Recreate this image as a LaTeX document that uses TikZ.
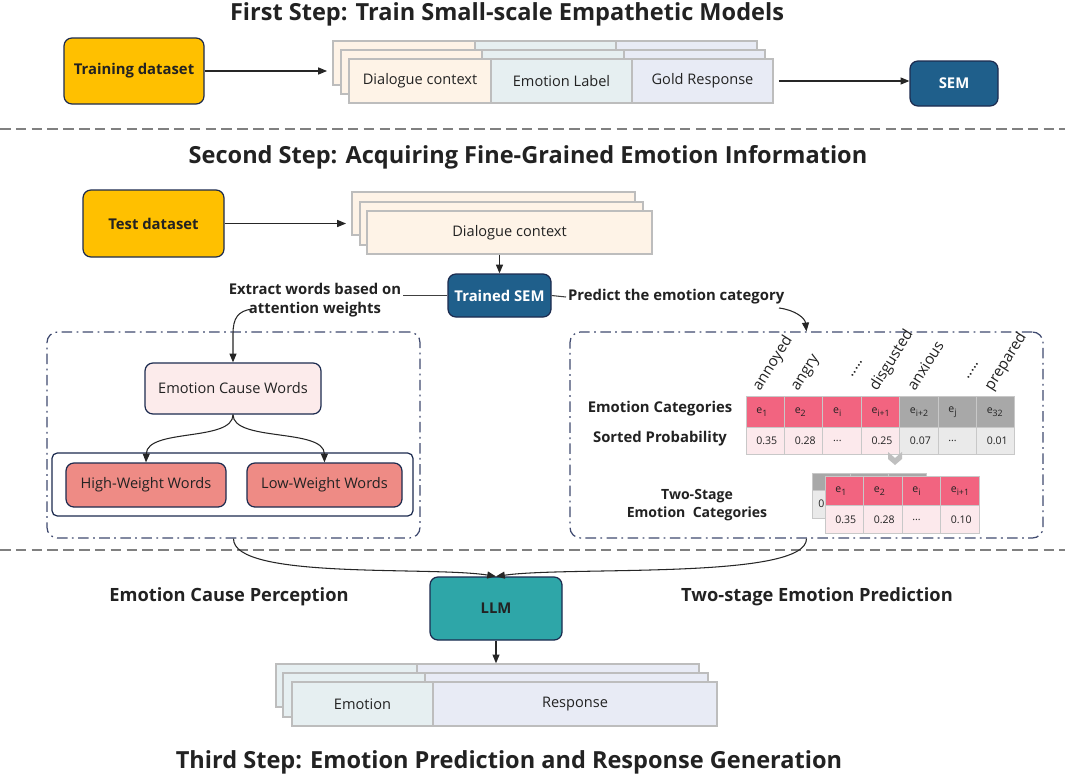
\documentclass[tikz,border=0pt]{standalone}
\usepackage{fontspec}
\setmainfont{Open Sans}
\usetikzlibrary{fit,arrows.meta,calc}
\newcommand{\tdots}{...}
\definecolor{gold}{HTML}{FFC000}
\definecolor{semblue}{HTML}{1F5F8B}
\definecolor{navy}{HTML}{1C2B4F}
\definecolor{txt}{HTML}{222222}
\definecolor{dcfill}{HTML}{FEF3E7}
\definecolor{elfill}{HTML}{E6EFF1}
\definecolor{grfill}{HTML}{E8EBF5}
\definecolor{lyrgray}{HTML}{BDBDBD}
\definecolor{cellline}{HTML}{C8C8C8}
\definecolor{pinkhead}{HTML}{F26480}
\definecolor{pinklight}{HTML}{FCE9EC}
\definecolor{grayhead}{HTML}{A8A8A8}
\definecolor{graylight}{HTML}{EAEAEA}
\definecolor{ecwfill}{HTML}{FCEBEB}
\definecolor{salmon}{HTML}{EE8B85}
\definecolor{tealc}{HTML}{2EA6A8}
\definecolor{dashgray}{HTML}{808080}
\definecolor{framecol}{HTML}{404A70}
\definecolor{chev}{HTML}{BFBFBF}
\begin{document}
\begin{tikzpicture}[x=0.02cm,y=-0.02cm,
  rbox/.style={draw=navy, line width=0.7pt, rounded corners=4.5pt, inner sep=0pt},
  lyr/.style={draw=lyrgray, line width=0.8pt, inner sep=0pt},
  tcell/.style={draw=cellline, line width=0.5pt, inner sep=0pt},
  ctxt/.style={font=\fontsize{6}{7}\selectfont, text=txt, anchor=west, inner sep=0pt},
  lbl/.style={font=\fontsize{8.45}{10.8}\selectfont\bfseries, align=center, text=txt, inner sep=1pt},
  biglbl/.style={font=\fontsize{10.4}{12}\selectfont\bfseries, text=txt, inner sep=1pt},
  reg/.style={font=\fontsize{8.3}{10}\selectfont, text=txt, inner sep=0pt},
  rot/.style={font=\fontsize{8.6}{10}\selectfont, text=txt, rotate=58, anchor=base west, inner sep=0pt},
  arr/.style={-{Triangle[length=5pt,width=4pt]}, line width=0.6pt, draw=black!85},
  plain/.style={line width=0.6pt, draw=black!75},
  sepline/.style={draw=dashgray, line width=0.9pt, dash pattern=on 6pt off 3pt},
  frame/.style={draw=framecol, line width=0.7pt, rounded corners=6pt, dash pattern=on 6pt off 2.5pt on 1pt off 2.5pt, inner sep=0pt},
  ttl/.style={font=\fontsize{13.4}{16}\selectfont\bfseries, text=txt, inner sep=0pt}
]
\useasboundingbox[fill=white] (0,0) rectangle (1065,781);

% ---------------- Step 1 ----------------
\node[ttl] (t1) at (507,14) {First Step: Train Small-scale Empathetic Models};
\node[rbox, fill=gold, fit={(64,38)(204,104)}] (train) {};
\node[lbl] (trainT) at (train.center) {Training dataset};

\node[lyr, fill=dcfill, fit={(333,41)(475,85)}] (s1b1) {};
\node[lyr, fill=elfill, fit={(475,41)(616,85)}] (s1b2) {};
\node[lyr, fill=grfill, fit={(616,41)(757,85)}] (s1b3) {};
\node[lyr, fill=dcfill, fit={(341,50)(482,94)}] (s1m1) {};
\node[lyr, fill=elfill, fit={(482,50)(624,94)}] (s1m2) {};
\node[lyr, fill=grfill, fit={(624,50)(765,94)}] (s1m3) {};
\node[lyr, fill=dcfill, fit={(349,59)(491,103)}] (dc1) {};
\node[lyr, fill=elfill, fit={(491,59)(632,103)}] (el1) {};
\node[lyr, fill=grfill, fit={(632,59)(773,103)}] (gr1) {};
\node[reg] (dc1T) at (dc1.center) {Dialogue context};
\node[reg] (el1T) at (el1.center) {Emotion Label};
\node[reg] (gr1T) at (gr1.center) {Gold Response};

\node[rbox, fill=semblue, fit={(910,61)(998,106)}] (sem) {};
\node[lbl, text=white] (semT) at (sem.center) {SEM};

\draw[arr, shorten >=3pt] (train.east) -- (train.east -| s1b1.west);
\draw[arr, shorten <=3pt] (gr1.east) -- (gr1.east -| sem.west);

\draw[sepline] (0,129) -- (1065,129);

% ---------------- Step 2 ----------------
\node[ttl] (t2) at (528,157) {Second Step: Acquiring Fine-Grained Emotion Information};
\node[rbox, fill=gold, fit={(83,190)(224,257)}] (test) {};
\node[lbl] (testT) at (test.center) {Test dataset};

\node[lyr, fill=dcfill, fit={(352,192)(635,235)}] (s2b) {};
\node[lyr, fill=dcfill, fit={(360,202)(643,245)}] (s2m) {};
\node[lyr, fill=dcfill, fit={(367,211)(652,254)}] (dc2) {};
\node[reg] (dc2T) at (dc2.center) {Dialogue context};

\draw[arr, shorten >=3pt] (test.east) -- (test.east -| s2b.west);

\node[rbox, fill=semblue, fit={(448,274)(551,317)}] (tsem) {};
\node[lbl, text=white] (tsemT) at (tsem.center) {Trained SEM};
\draw[arr] (tsem.north |- dc2.south) -- (tsem.north);

\node[lbl] (extract) at (315,300) {Extract words based on\\attention weights};
\node[lbl, anchor=west] (predict) at (566,297) {Predict the emotion category};
\draw[plain] (tsem.west) -- (extract.east |- tsem.west);
\draw[plain] (tsem.east) -- (predict.west);

% left frame
\node[frame, fit={(47,332)(420,538)}] (lframe) {};
\node[rbox, fill=ecwfill, fit={(145,363)(321,414)}] (ecw) {};
\node[reg] (ecwT) at (ecw.center) {Emotion Cause Words};
\node[draw=navy, line width=0.7pt, rounded corners=3pt, fill=white, fit={(52,453)(413,516)}, inner sep=0pt] (inner) {};
\node[rbox, fill=salmon, fit={(66,463)(226,507)}] (high) {};
\node[reg] (highT) at (high.center) {High-Weight Words};
\node[rbox, fill=salmon, fit={(247,463)(402,507)}] (low) {};
\node[reg] (lowT) at (low.center) {Low-Weight Words};

\coordinate (ex1) at (252,309);
\draw[arr] (ex1) .. controls (238,311) and (233,318) .. (233,334) -- (ecw.north);
\draw[arr] (ecw.south) .. controls (233,442) and (147,428) .. (high.north);
\draw[arr] (ecw.south) .. controls (233,442) and (324,428) .. (low.north);

% right frame
\node[frame, fit={(570,332)(1043,538)}] (rframe) {};
\coordinate (pr1) at (779,308);
\draw[arr] (pr1) .. controls (795,310) and (805,318) .. (rframe.north);

\node[rot] at (760,392) {annoyed};
\node[rot] at (798,392) {angry};
\node[rot] at (852,378) {.....};
\node[rot] at (877,392) {disgusted};
\node[rot] at (915,392) {anxious};
\node[rot] at (968,380) {.....};
\node[rot] at (992,392) {prepared};

\node[lbl] (ecat) at (660,409) {Emotion Categories};
\node[lbl] (sprob) at (660,439) {Sorted Probability};

% big table
\foreach \i/\hd/\pr [count=\k from 0] in {1/{e\textsubscript{1}}/0.35, 2/{e\textsubscript{2}}/0.28, 3/{e\textsubscript{i}}/\tdots, 4/{e\textsubscript{i+1}}/0.25} {
  \node[tcell, fill=pinkhead, fit={({746+38.4*\k},396)({746+38.4*(\k+1)},427)}] (h\i) {};
  \node[ctxt] at ({756+38.4*\k},412) {\hd};
  \node[tcell, fill=pinklight, fit={({746+38.4*\k},427)({746+38.4*(\k+1)},454)}] (p\i) {};
  \node[ctxt] at ({756+38.4*\k},441) {\pr};
}
\foreach \i/\hd/\pr [count=\k from 4] in {5/{e\textsubscript{i+2}}/0.07, 6/{e\textsubscript{j}}/\tdots, 7/{e\textsubscript{32}}/0.01} {
  \node[tcell, fill=grayhead, fit={({746+38.4*\k},396)({746+38.4*(\k+1)},427)}] (h\i) {};
  \node[ctxt] at ({756+38.4*\k},412) {\hd};
  \node[tcell, fill=graylight, fit={({746+38.4*\k},427)({746+38.4*(\k+1)},454)}] (p\i) {};
  \node[ctxt] at ({756+38.4*\k},441) {\pr};
}

% chevron
\fill[chev] (888,452) -- (895,458) -- (902,452) -- (902,459) -- (895,465) -- (888,459) -- cycle;

\node[lbl, font=\fontsize{8.0}{10.3}\selectfont\bfseries] (twostage) at (697,505) {Two-Stage\\Emotion~~Categories};

% back small table
\foreach \k in {0,1,2} {
  \node[tcell, fill=grayhead, fit={({812+38.3*\k},473)({812+38.3*(\k+1)},490)}] (bh\k) {};
  \node[tcell, fill=graylight, fit={({812+38.3*\k},490)({812+38.3*(\k+1)},518)}] (bp\k) {};
}
\node[ctxt] at (818,504) {0.35};
% front small table
\foreach \i/\hd/\pr [count=\k from 0] in {1/{e\textsubscript{1}}/0.35, 2/{e\textsubscript{2}}/0.28, 3/{e\textsubscript{i}}/\tdots, 4/{e\textsubscript{i+1}}/0.10} {
  \node[tcell, fill=pinkhead, fit={({825+38.5*\k},476)({825+38.5*(\k+1)},505)}] (sh\i) {};
  \node[ctxt] at ({835+38.5*\k},491) {\hd};
  \node[tcell, fill=pinklight, fit={({825+38.5*\k},505)({825+38.5*(\k+1)},533)}] (sp\i) {};
  \node[ctxt] at ({835+38.5*\k},520) {\pr};
}

\draw[sepline] (0,550) -- (1065,550);

% ---------------- Step 3 ----------------
\node[rbox, fill=tealc, fit={(430,577)(562,640)}] (llm) {};
\node[lbl] (llmT) at (llm.center) {LLM};
\draw[arr] (lframe.south) .. controls (233,580) and (430,566) .. (llm.north);
\draw[arr] (rframe.south) .. controls (807,580) and (570,566) .. (llm.north);

\node[biglbl] (ecp) at (229,597) {Emotion Cause Perception};
\node[biglbl] (tsep) at (817,597) {Two-stage Emotion Prediction};

\node[lyr, fill=elfill, fit={(276,664)(417,707)}] (s3b1) {};
\node[lyr, fill=grfill, fit={(417,664)(699,707)}] (s3b2) {};
\node[lyr, fill=elfill, fit={(283,673)(425,717)}] (s3m1) {};
\node[lyr, fill=grfill, fit={(425,673)(708,717)}] (s3m2) {};
\node[lyr, fill=elfill, fit={(292,682)(433,726)}] (emo) {};
\node[lyr, fill=grfill, fit={(433,682)(717,726)}] (resp) {};
\node[reg] (emoT) at (emo.center) {Emotion};
\node[reg] (respT) at (resp.center) {Response};

\draw[arr] (llm.south) -- (llm.south |- s3b2.north);

\node[ttl] (t3) at (509,762) {Third Step: Emotion Prediction and Response Generation};
\end{tikzpicture}
\end{document}
